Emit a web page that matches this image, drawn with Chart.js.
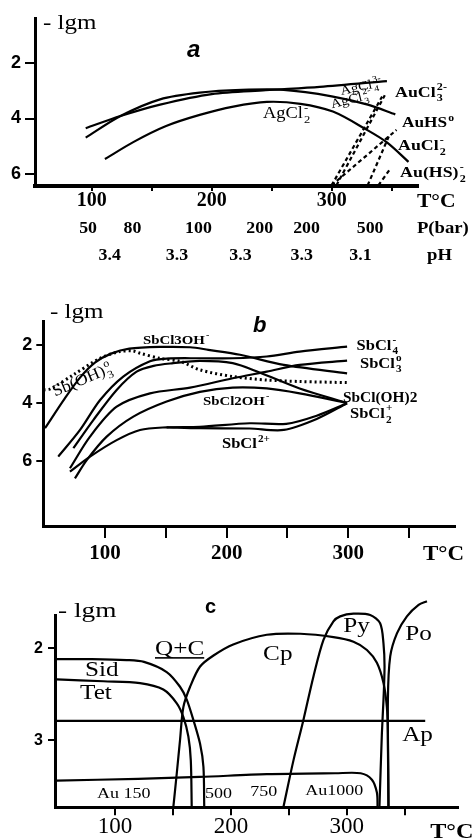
<!DOCTYPE html>
<html>
<head>
<meta charset="utf-8">
<script src="https://cdn.jsdelivr.net/npm/chart.js@4.4.1/dist/chart.umd.min.js"></script>
<style>
  html, body { margin: 0; padding: 0; background: #fff; }
  body { width: 474px; height: 840px; position: relative; overflow: hidden; }
  canvas { position: absolute; left: 0; }
</style>
</head>
<body>
<canvas id="chartA" width="474" height="270" style="top:0px"></canvas>
<canvas id="chartB" width="474" height="285" style="top:285px"></canvas>
<canvas id="chartC" width="474" height="270" style="top:570px"></canvas>
<script>
const SERIF = "'Liberation Serif','DejaVu Serif',serif";
const SANS = "'Liberation Sans','DejaVu Sans',sans-serif";

// ---------- panel a : Ag / Au complexes ----------
const aTempTicks = [100, 150, 200, 250, 300, 350];
const aLgmTicks = [2, 4, 6];
const pressT = [97, 134, 189, 240, 279, 332];
const pressLabels = ["50", "80", "100", "200", "200", "500"];
const phT = [115, 171, 224, 275, 324];
const phLabels = ["3.4", "3.3", "3.3", "3.3", "3.1"];

const agcl4T = [95, 124, 157, 200, 245, 290, 346];
const agcl4M = [4.35, 3.91, 3.50, 3.12, 2.98, 2.86, 2.65];
const agcl3T = [95, 124, 157, 190, 225, 260, 300, 330, 353];
const agcl3M = [4.69, 3.91, 3.31, 3.07, 2.97, 2.97, 3.20, 3.50, 3.85];
const agcl2T = [111, 135, 162, 190, 218, 246, 274, 301, 329, 346, 364];
const agcl2M = [5.46, 4.84, 4.27, 3.87, 3.57, 3.40, 3.47, 3.75, 4.40, 4.86, 5.56];
// gold species, dashed
const aucl3T = [300, 342];
const aucl3M = [6.40, 3.21];
const aucl3bT = [304, 345];
const aucl3bM = [6.40, 3.10];
const auhsT = [300, 354];
const auhsM = [6.40, 4.41];
const aucl2T = [330, 348];
const aucl2M = [6.40, 4.60];
const auhs2T = [339, 349];
const auhs2M = [6.40, 5.80];

// ---------- panel b : Sb complexes ----------
const bTempTicks = [100, 150, 200, 250, 300, 350];
const bLgmTicks = [2, 4, 6];
const sbcl3ohT = [50.7, 67, 80, 92, 105, 120, 145, 170, 185, 211, 247, 299];
const sbcl3ohM = [4.87, 3.84, 3.10, 2.60, 2.30, 2.13, 2.07, 2.08, 2.17, 2.34, 2.69, 2.98];
const sboh3T = [49.5, 55, 74, 96, 112, 123, 129, 145, 162, 178, 205, 233, 260, 300];
const sboh3M = [3.55, 3.52, 3.03, 2.46, 2.23, 2.21, 2.29, 2.46, 2.57, 2.86, 3.09, 3.21, 3.26, 3.30];
const sbcl4T = [61.6, 79.5, 96, 115, 137, 151, 178, 205, 233, 260, 299];
const sbcl4M = [5.85, 4.93, 3.90, 3.09, 2.56, 2.47, 2.46, 2.46, 2.40, 2.23, 2.06];
const sbcloh2T = [74, 90.4, 109.6, 126, 140, 156, 178, 205, 227, 260, 299];
const sbcloh2M = [5.56, 4.59, 3.55, 2.92, 2.72, 2.63, 2.55, 2.63, 2.95, 3.50, 4.00];
const sbcl3T = [71.2, 87.7, 109.6, 137, 170, 205, 233, 260, 299];
const sbcl3M = [6.25, 5.16, 4.13, 3.67, 3.47, 3.15, 2.92, 2.69, 2.54];
const sbcl2ohT = [75.3, 85, 101.4, 123.3, 150.7, 178, 205, 233, 260, 299];
const sbcl2ohM = [6.60, 5.97, 5.16, 4.47, 3.95, 3.62, 3.47, 3.50, 3.67, 4.00];
const sbcl2pT = [71.2, 87.7, 109.6, 128.8, 150.7, 178, 219, 249, 274, 299];
const sbcl2pM = [6.37, 5.85, 5.28, 4.93, 4.84, 4.82, 4.70, 4.72, 4.44, 4.01];
const sbclppT = [150.7, 178, 219, 247, 274, 299];
const sbclppM = [4.84, 4.87, 4.88, 4.93, 4.55, 4.01];

// ---------- panel c : minerals ----------
const cTempTicks = [100, 150, 200, 250, 300, 350];
const cLgmTicks = [2, 3];
const sidT = [49.7, 80, 110, 125, 144.6, 156.1, 161.9, 167.6, 173.4, 176.3, 177];
const sidM = [2.12, 2.12, 2.13, 2.15, 2.26, 2.42, 2.56, 2.78, 3.04, 3.29, 3.73];
const tetT = [49.7, 90, 121.6, 141.7, 153.3, 159, 163.3, 165.4, 166.2];
const tetM = [2.34, 2.36, 2.38, 2.45, 2.60, 2.75, 2.96, 3.22, 3.73];
const cpT = [150.3, 153.3, 156.1, 159, 164.8, 173.4, 185, 202, 231, 260, 288.5, 305.8, 317.4, 326, 331.7, 334.6, 335.5, 336];
const cpM = [3.73, 3.36, 3.00, 2.64, 2.42, 2.20, 2.08, 1.96, 1.855, 1.844, 1.88, 1.93, 2.02, 2.16, 2.38, 2.64, 2.93, 3.73];
const pyT = [245.3, 254, 262.6, 271.2, 279.9, 288.5, 294.3, 305.8, 320.2, 328.8, 331.7, 332.6, 331.7, 330.3, 328.2];
const pyM = [3.73, 3.22, 2.78, 2.31, 1.91, 1.71, 1.655, 1.626, 1.64, 1.73, 1.95, 2.20, 2.56, 2.93, 3.73];
const poT = [336, 335.5, 337.5, 343.3, 351.9, 362, 369.2];
const poM = [3.73, 2.56, 2.09, 1.84, 1.655, 1.53, 1.49];
const apT = [49.7, 367.7];
const apM = [2.79, 2.79];
const auT = [49.7, 120, 173, 231, 290, 312, 321.7, 326, 326.6];
const auM = [3.44, 3.42, 3.40, 3.37, 3.36, 3.36, 3.43, 3.57, 3.73];

// ---------- helpers ----------
const pts = (t, m) => t.map((v, i) => ({ x: v, y: m[i] }));

function curve(t, m, extra) {
  return Object.assign({
    data: pts(t, m), showLine: true, borderColor: "#000", borderWidth: 2.2,
    pointRadius: 0, tension: 0.3, clip: false
  }, extra || {});
}
const dashed = { borderDash: [4, 3] };
const dotted = { borderDash: [2, 3], borderWidth: 3 };

function axes(o) {
  return {
    x: {
      type: "linear", min: o.xmin, max: o.xmax,
      afterBuildTicks: s => { s.ticks = o.xt.map(v => ({ value: v })); },
      afterFit: s => { s.height = o.xh; },
      ticks: {
        autoSkip: false, maxRotation: 0, padding: o.xpad, color: "#000", font: o.xfont,
        callback: v => (v % 100 === 0 ? String(v) : "")
      },
      grid: { drawOnChartArea: false, drawTicks: true, tickLength: o.xtl, color: "#000", lineWidth: 2 },
      border: { display: true, color: "#000", width: o.xbw }
    },
    y: {
      type: "linear", reverse: true, min: o.ymin, max: o.ymax,
      afterBuildTicks: s => { s.ticks = o.yt.map(v => ({ value: v })); },
      afterFit: s => { s.width = o.yw; },
      ticks: { padding: o.ypad, color: "#000", font: o.yfont },
      grid: { drawOnChartArea: false, drawTicks: true, tickLength: o.ytl, color: "#000", lineWidth: 2 },
      border: { display: true, color: "#000", width: 3 }
    }
  };
}

// little rich-text renderer for chemical labels: _{sub} ^{sup} _{sub}^{sup}
function tokens(str) {
  const re = /_\{([^}]*)\}\^\{([^}]*)\}|_\{([^}]*)\}|\^\{([^}]*)\}|([^_^]+)/g;
  const out = [];
  let m;
  while ((m = re.exec(str))) {
    if (m[1] !== undefined) out.push({ k: "both", a: m[1], b: m[2] });
    else if (m[3] !== undefined) out.push({ k: "sub", a: m[3] });
    else if (m[4] !== undefined) out.push({ k: "sup", a: m[4] });
    else out.push({ k: "n", a: m[5] });
  }
  return out;
}
function fontOf(n, k) {
  return (n.w || "normal") + " " + (k * n.s).toFixed(1) + "px " + (n.f || SERIF);
}
function runRich(ctx, n, x0, draw) {
  let x = x0;
  const s = n.s;
  tokens(n.text).forEach(tk => {
    if (tk.k === "n") {
      ctx.font = fontOf(n, 1);
      if (draw) ctx.fillText(tk.a, x, 0);
      x += ctx.measureText(tk.a).width;
    } else {
      ctx.font = fontOf(n, 0.68);
      const wa = ctx.measureText(tk.a).width;
      let wb = 0;
      if (tk.k === "sub" || tk.k === "both") { if (draw) ctx.fillText(tk.a, x + 1, 0.3 * s); }
      if (tk.k === "sup") { if (draw) ctx.fillText(tk.a, x + 1, -0.42 * s); }
      if (tk.k === "both") {
        wb = ctx.measureText(tk.b).width;
        if (draw) ctx.fillText(tk.b, x + 1, -0.45 * s);
      }
      x += Math.max(wa, wb) + 1.5;
    }
  });
  return x - x0;
}

const notes = {};

const notesPlugin = {
  id: "notes",
  afterDraw(chart) {
    const items = notes[chart.canvas.id] || [];
    const ctx = chart.ctx, sx = chart.scales.x, sy = chart.scales.y;
    items.forEach(n => {
      ctx.save();
      ctx.translate(sx.getPixelForValue(n.t), sy.getPixelForValue(n.m));
      if (n.rot) ctx.rotate(n.rot * Math.PI / 180);
      ctx.scale(n.sx || 1.15, 1);
      ctx.fillStyle = "#000";
      ctx.textBaseline = "alphabetic";
      ctx.textAlign = "left";
      const w = runRich(ctx, n, 0, false);
      const x0 = n.align === "center" ? -w / 2 : 0;
      runRich(ctx, n, x0, true);
      if (n.u) {
        ctx.fillRect(x0, 0.12 * n.s, w, 1.6);
      }
      ctx.restore();
    });
  }
};
Chart.register(notesPlugin);
Chart.defaults.color = "#000";

function makeChart(id, datasets, scaleOpts, pad) {
  return new Chart(document.getElementById(id), {
    type: "scatter",
    data: { datasets: datasets },
    options: {
      responsive: false,
      animation: false,
      events: [],
      layout: { padding: pad },
      plugins: { legend: { display: false }, tooltip: { enabled: false } },
      scales: axes(scaleOpts)
    }
  });
}

// ---------- panel a ----------
notes.chartA = [
  { text: "- lgm", t: 59.4, m: 0.78, s: 20, sx: 1.25 },
  { text: "a", t: 179.4, m: 1.78, s: 24, w: "bold italic", f: SANS, sx: 1 },
  { text: "AgCl_{4}^{3-}", t: 307.9, m: 3.15, s: 13, rot: -12 },
  { text: "AgCl_{3}^{2-}", t: 300, m: 3.63, s: 13, rot: -14 },
  { text: "AgCl_{2}^{-}", t: 242.8, m: 3.98, s: 16 },
  { text: "AuCl_{3}^{2-}", t: 352.8, m: 3.21, s: 15.5, w: "bold" },
  { text: "AuHS^{o}", t: 358.6, m: 4.31, s: 15, w: "bold" },
  { text: "AuCl_{2}^{-}", t: 355.3, m: 5.14, s: 15.5, w: "bold" },
  { text: "Au(HS)_{2}^{-}", t: 357, m: 6.11, s: 15.5, w: "bold" },
  { text: "T°C", t: 371, m: 7.18, s: 18, w: "bold", sx: 1.2 },
  { text: "P(bar)", t: 371, m: 8.13, s: 17, w: "bold", sx: 1.1 },
  { text: "pH", t: 379.4, m: 9.10, s: 17, w: "bold", sx: 1.1 }
];
pressLabels.forEach((p, i) => notes.chartA.push({ text: p, t: pressT[i], m: 8.13, s: 17, w: "bold", sx: 1.05, align: "center" }));
phLabels.forEach((p, i) => notes.chartA.push({ text: p, t: phT[i], m: 9.10, s: 17, w: "bold", sx: 1.05, align: "center" }));

makeChart("chartA", [
  curve(agcl4T, agcl4M),
  curve(agcl3T, agcl3M),
  curve(agcl2T, agcl2M),
  curve(aucl3T, aucl3M, dashed),
  curve(aucl3bT, aucl3bM, dashed),
  curve(auhsT, auhsM, dashed),
  curve(aucl2T, aucl2M, dashed),
  curve(auhs2T, auhs2M, dashed)
], {
  xmin: 52.75, xmax: 371.9, xt: aTempTicks, xh: 84, xtl: 5, xpad: -2.5, xbw: 4,
  xfont: { family: SERIF, size: 20, weight: "bold" },
  ymin: 0.38, ymax: 6.43, yt: aLgmTicks, yw: 35, ytl: 10, ypad: 4,
  yfont: { family: SANS, size: 18, weight: "bold" }
}, { top: 18, right: 56, left: 0, bottom: 0 });

// ---------- panel b ----------
notes.chartB = [
  { text: "- lgm", t: 54.8, m: 1.07, s: 20, sx: 1.25 },
  { text: "b", t: 221.6, m: 1.55, s: 22, w: "bold italic", f: SANS, sx: 1 },
  { text: "SbCl3OH^{-}", t: 131.2, m: 1.97, s: 13.5, w: "bold", sx: 1.1 },
  { text: "Sb(OH)_{3}^{o}", t: 58.9, m: 3.78, s: 16, rot: -23, sx: 1.1 },
  { text: "SbCl_{4}^{-}", t: 306.8, m: 2.17, s: 15, w: "bold", sx: 1.1 },
  { text: "SbCl_{3}^{o}", t: 309.6, m: 2.79, s: 15, w: "bold", sx: 1.1 },
  { text: "SbCl(OH)2", t: 295.6, m: 3.97, s: 14, w: "bold", sx: 1.1 },
  { text: "SbCl_{2}^{+}", t: 301.4, m: 4.52, s: 15, w: "bold", sx: 1.1 },
  { text: "SbCl2OH^{-}", t: 180.5, m: 4.07, s: 13.5, w: "bold", sx: 1.1 },
  { text: "SbCl^{2+}", t: 196.2, m: 5.55, s: 15, w: "bold", sx: 1.1 },
  { text: "T°C", t: 361.4, m: 9.41, s: 20, w: "bold", sx: 1.15 }
];

makeChart("chartB", [
  curve(sbcl3ohT, sbcl3ohM),
  curve(sboh3T, sboh3M, dotted),
  curve(sbcl4T, sbcl4M),
  curve(sbcloh2T, sbcloh2M),
  curve(sbcl3T, sbcl3M),
  curve(sbcl2ohT, sbcl2ohM),
  curve(sbcl2pT, sbcl2pM),
  curve(sbclppT, sbclppM)
], {
  xmin: 49.3, xmax: 387.7, xt: bTempTicks, xh: 44, xtl: 12, xpad: 3, xbw: 3,
  xfont: { family: SERIF, size: 21, weight: "bold" },
  ymin: 1.2, ymax: 8.24, yt: bLgmTicks, yw: 43.3, ytl: 7, ypad: 4,
  yfont: { family: SANS, size: 18, weight: "bold" }
}, { top: 36.7, right: 19, left: 0, bottom: 0 });

// ---------- panel c ----------
notes.chartC = [
  { text: "- lgm", t: 50.8, m: 1.66, s: 21, sx: 1.3 },
  { text: "c", t: 177.7, m: 1.615, s: 20, w: "bold", f: SANS, sx: 1 },
  { text: "Q+C", t: 134.5, m: 2.07, s: 21, sx: 1.2, u: true },
  { text: "Sid", t: 74.1, m: 2.30, s: 21, sx: 1.2 },
  { text: "Tet", t: 69.8, m: 2.55, s: 21, sx: 1.2 },
  { text: "Cp", t: 227.8, m: 2.13, s: 21, sx: 1.2 },
  { text: "Py", t: 296.9, m: 1.83, s: 21, sx: 1.2 },
  { text: "Po", t: 350.4, m: 1.91, s: 21, sx: 1.2 },
  { text: "Ap", t: 347.8, m: 3.01, s: 21, sx: 1.2 },
  { text: "Au 150", t: 84.5, m: 3.63, s: 15, sx: 1.2 },
  { text: "500", t: 177.7, m: 3.63, s: 15, sx: 1.2 },
  { text: "750", t: 216.6, m: 3.61, s: 15, sx: 1.2 },
  { text: "Au1000", t: 264.1, m: 3.60, s: 15, sx: 1.2 },
  { text: "T°C", t: 372, m: 4.06, s: 22, w: "bold", sx: 1.1 }
];

makeChart("chartC", [
  curve(sidT, sidM),
  curve(tetT, tetM),
  curve(cpT, cpM),
  curve(pyT, pyM),
  curve(poT, poM),
  curve(apT, apM),
  curve(auT, auM)
], {
  xmin: 48.2, xmax: 396, xt: cTempTicks, xh: 32.7, xtl: 8, xpad: -2, xbw: 3,
  xfont: { family: SERIF, size: 23 },
  ymin: 1.64, ymax: 3.73, yt: cLgmTicks, yw: 55, ytl: 7, ypad: 5,
  yfont: { family: SANS, size: 16, weight: "bold" }
}, { top: 45, right: 16, left: 0, bottom: 0 });
</script>
</body>
</html>
